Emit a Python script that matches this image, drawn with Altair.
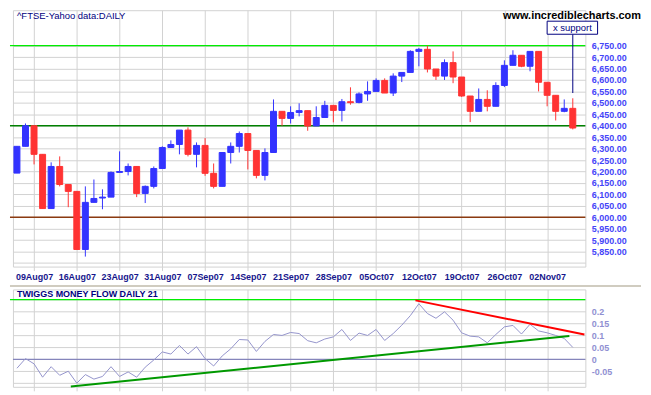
import json
import altair as alt
import pandas as pd

# ---------------- data ----------------
dates = [
    "07Aug07", "08Aug07", "09Aug07", "10Aug07", "13Aug07", "14Aug07", "15Aug07", "16Aug07",
    "17Aug07", "20Aug07", "21Aug07", "22Aug07", "23Aug07", "24Aug07", "28Aug07", "29Aug07",
    "30Aug07", "31Aug07", "03Sep07", "04Sep07", "05Sep07", "06Sep07", "07Sep07", "10Sep07",
    "11Sep07", "12Sep07", "13Sep07", "14Sep07", "17Sep07", "18Sep07", "19Sep07", "20Sep07",
    "21Sep07", "24Sep07", "25Sep07", "26Sep07", "27Sep07", "28Sep07", "01Oct07", "02Oct07",
    "03Oct07", "04Oct07", "05Oct07", "08Oct07", "09Oct07", "10Oct07", "11Oct07", "12Oct07",
    "15Oct07", "16Oct07", "17Oct07", "18Oct07", "19Oct07", "22Oct07", "23Oct07", "24Oct07",
    "25Oct07", "26Oct07", "29Oct07", "30Oct07", "31Oct07", "01Nov07", "02Nov07", "05Nov07",
    "06Nov07", "07Nov07",
]
opens = [6193, 6310, 6400, 6275, 6038, 6222, 6143, 6113, 5859, 6065, 6084, 6088, 6196, 6200,
         6222, 6104, 6135, 6213, 6305, 6318, 6381, 6275, 6314, 6192, 6135, 6283, 6310, 6366,
         6292, 6183, 6283, 6463, 6432, 6458, 6466, 6399, 6436, 6489, 6467, 6505, 6502, 6539,
         6550, 6598, 6543, 6617, 6633, 6725, 6734, 6648, 6617, 6676, 6613, 6530, 6463, 6515,
         6485, 6576, 6664, 6708, 6660, 6725, 6590, 6533, 6463, 6476]
highs = [6310, 6410, 6402, 6275, 6240, 6266, 6143, 6113, 6135, 6165, 6122, 6200, 6288, 6235,
         6222, 6139, 6222, 6310, 6336, 6381, 6393, 6327, 6346, 6235, 6283, 6327, 6375, 6366,
         6292, 6301, 6515, 6463, 6485, 6498, 6466, 6485, 6509, 6489, 6517, 6568, 6546, 6594,
         6607, 6607, 6629, 6633, 6730, 6740, 6750, 6648, 6690, 6725, 6613, 6530, 6563, 6555,
         6590, 6686, 6730, 6708, 6725, 6725, 6590, 6533, 6515, 6520]
lows = [6193, 6310, 6231, 6038, 6038, 6135, 6044, 5859, 5828, 6065, 6035, 6088, 6196, 6183,
        6088, 6062, 6126, 6213, 6305, 6275, 6266, 6218, 6181, 6126, 6135, 6235, 6283, 6209,
        6170, 6161, 6283, 6400, 6410, 6441, 6378, 6399, 6436, 6415, 6419, 6492, 6498, 6509,
        6550, 6543, 6530, 6591, 6633, 6660, 6633, 6600, 6600, 6586, 6526, 6416, 6463, 6463,
        6485, 6569, 6664, 6656, 6638, 6550, 6485, 6423, 6459, 6384]
closes = [6310, 6400, 6275, 6038, 6222, 6143, 6113, 5859, 6065, 6082, 6088, 6196, 6200, 6222,
          6104, 6135, 6213, 6305, 6318, 6381, 6275, 6314, 6192, 6135, 6283, 6310, 6366, 6292,
          6183, 6283, 6463, 6432, 6458, 6466, 6399, 6436, 6489, 6467, 6505, 6501, 6539, 6550,
          6598, 6543, 6617, 6633, 6725, 6734, 6648, 6617, 6676, 6613, 6530, 6463, 6515, 6485,
          6576, 6664, 6708, 6660, 6725, 6590, 6533, 6463, 6476, 6390]
money_flow = [-0.0375, 0.003, -0.019, -0.075, -0.031, -0.067, -0.05, -0.1, -0.064, -0.083,
              -0.072, -0.031, -0.072, -0.053, -0.075, -0.033, -0.003, 0.031, 0.022, 0.058,
              0.022, 0.053, 0.003, -0.028, 0.014, 0.044, 0.083, 0.081, 0.033, 0.075,
              0.104, 0.1, 0.1125, 0.108, 0.078, 0.069, 0.085, 0.094, 0.125, 0.079,
              0.11, 0.1, 0.125, 0.079, 0.108, 0.143, 0.183, 0.233, 0.192, 0.172,
              0.199, 0.164, 0.111, 0.097, 0.094, 0.069, 0.104, 0.136, 0.142, 0.106,
              0.147, 0.119, 0.111, 0.1, 0.0875, 0.05]

date_tick_idx = list(range(2, 63, 5))
price_grid = list(range(5800, 6751, 50))
mf_grid = [-0.1, -0.05, 0.0, 0.05, 0.1, 0.15, 0.2, 0.25]

price_levels = [6750, 6400, 6000]
price_level_colors = ["#00ee00", "#008000", "#8b3a10"]

trend_idx_red = [46.6, 66.36]
trend_val_red = [0.247, 0.104]
trend_idx_green = [6.3, 64.6]
trend_val_green = [-0.114, 0.098]

support_idx = 65
support_low, support_high = 6543, 6800
box_idx = [62.0, 67.9]
box_price = [6800, 6857]

# ---------------- layout / style ----------------
W = 576
H_TOP = 258
H_BOT = 98
FONT = "Liberation Sans"
GRID = "#d2d2d2"
BLUE = "#3333ff"
RED = "#ff3333"
NAVY = "#000080"

x_scale = alt.Scale(domain=[-0.465, 66.47], nice=False, zero=False, padding=0)
y_top = alt.Scale(domain=[5784.3, 6905.1], nice=False, zero=False)
y_bot = alt.Scale(domain=[-0.1154, 0.2929], nice=False, zero=False)

x_label_expr = json.dumps(dates) + "[datum.value]"

x_axis_top = alt.Axis(values=date_tick_idx, labelExpr=x_label_expr, grid=True, gridColor=GRID,
                      ticks=True, tickSize=4, tickColor=GRID, domain=False, title=None,
                      labelFont=FONT, labelFontSize=9, labelFontWeight="bold",
                      labelColor="#16168c", labelPadding=2, labelAngle=0)
y_axis_top = alt.Axis(orient="right", values=price_grid,
                      labelExpr="datum.value < 5820 ? '' : format(datum.value, ',.2f')",
                      grid=True, gridColor=GRID, ticks=False, domain=False, title=None,
                      labelFont=FONT, labelFontSize=9, labelFontWeight="bold",
                      labelColor="#4444f8", labelPadding=6)

x_axis_bot = alt.Axis(values=date_tick_idx, labels=False, grid=True, gridColor=GRID,
                      ticks=True, tickSize=4, tickColor=GRID, domain=False, title=None)
y_axis_bot = alt.Axis(orient="right", values=mf_grid,
                      labelExpr="datum.value < -0.07 || datum.value > 0.22 ? '' : "
                                "(datum.value < 0 ? '-' + format(-datum.value, '.2~f') : format(datum.value, '.2~f'))",
                      grid=True, gridColor=GRID, ticks=False, domain=False, title=None,
                      labelFont=FONT, labelFontSize=9, labelFontWeight="bold",
                      labelColor="#9090d2", labelPadding=6)


def xt(field):
    return alt.X(field, type="quantitative", scale=x_scale, axis=x_axis_top, title=None)


def yt(field):
    return alt.Y(field, type="quantitative", scale=y_top, axis=y_axis_top, title=None)


def xb(field):
    return alt.X(field, type="quantitative", scale=x_scale, axis=x_axis_bot, title=None)


def yb(field):
    return alt.Y(field, type="quantitative", scale=y_bot, axis=y_axis_bot, title=None)


# ---------------- top panel ----------------
candles = pd.DataFrame({
    "idx": list(range(len(dates))),
    "date": dates,
    "open": opens, "high": highs, "low": lows, "close": closes,
})
candles["color"] = [BLUE if c >= o else RED for o, c in zip(opens, closes)]

levels = pd.DataFrame({"price": price_levels, "color": price_level_colors})
level_rules = alt.Chart(levels).mark_rule(strokeWidth=1.4).encode(
    x=alt.value(-3), x2=alt.value(W),
    y=yt("price"),
    color=alt.Color("color:N", scale=None),
)

wicks = alt.Chart(candles).mark_rule(strokeWidth=1).encode(
    x=xt("idx"), y=yt("low"), y2="high:Q",
    color=alt.Color("color:N", scale=None),
)
bodies = alt.Chart(candles).mark_bar(size=6, strokeWidth=1).encode(
    x=xt("idx"), y=yt("open"), y2="close:Q",
    color=alt.Color("color:N", scale=None),
    stroke=alt.Stroke("color:N", scale=None),
)

support_df = pd.DataFrame({"idx": [support_idx], "lo": [support_low], "hi": [support_high]})
support_line = alt.Chart(support_df).mark_rule(color=NAVY, strokeWidth=1).encode(
    x=xt("idx"), y=yt("lo"), y2="hi:Q",
)
box_df = pd.DataFrame({"x0": [box_idx[0]], "x1": [box_idx[1]], "p0": [box_price[0]],
                       "p1": [box_price[1]], "label": ["x support"],
                       "xm": [(box_idx[0] + box_idx[1]) / 2], "pm": [(box_price[0] + box_price[1]) / 2]})
box = alt.Chart(box_df).mark_rect(fill="white", stroke=NAVY, strokeWidth=1).encode(
    x=xt("x0"), x2="x1:Q", y=yt("p0"), y2="p1:Q",
)
box_text = alt.Chart(box_df).mark_text(font=FONT, fontSize=9.5, color=NAVY, baseline="middle",
                                       align="center").encode(
    x=xt("xm"), y=yt("pm"), text="label:N",
)

title_top = alt.Chart(pd.DataFrame({"t": ["^FTSE-Yahoo data:DAILY"]})).mark_text(
    font=FONT, fontSize=9.5, color=NAVY, align="left", baseline="top").encode(
    x=alt.value(4), y=alt.value(1), text="t:N")
site = alt.Chart(pd.DataFrame({"t": ["www.incrediblecharts.com"]})).mark_text(
    font=FONT, fontSize=11, fontWeight="bold", color="black", align="right", baseline="top").encode(
    x=alt.value(632), y=alt.value(-0.5), text="t:N")

top = alt.layer(level_rules, wicks, bodies, support_line, box, box_text, title_top, site).properties(
    width=W, height=H_TOP)

# ---------------- bottom panel ----------------
mf = pd.DataFrame({"idx": list(range(len(dates))), "mf": money_flow})

separator = alt.Chart(pd.DataFrame({"a": [0]})).mark_rule(color="#d0ccc0", strokeWidth=2).encode(
    x=alt.value(-3), x2=alt.value(632), y=alt.value(-3.5))
green_top = alt.Chart(pd.DataFrame({"v": [0.25]})).mark_rule(color="#00ee00", strokeWidth=1.4).encode(
    x=alt.value(-3), x2=alt.value(W), y=yb("v"))
zero_line = alt.Chart(pd.DataFrame({"v": [0.0]})).mark_rule(color="#8585bb", strokeWidth=1.3).encode(
    x=alt.value(0), x2=alt.value(W), y=yb("v"))

mf_line = alt.Chart(mf).mark_line(color="#9494cc", strokeWidth=1).encode(
    x=xb("idx"), y=yb("mf"),
)
trend_red = alt.Chart(pd.DataFrame({"idx": trend_idx_red, "v": trend_val_red})).mark_line(
    color="#ff0000", strokeWidth=2).encode(x=xb("idx"), y=yb("v"))
trend_green = alt.Chart(pd.DataFrame({"idx": trend_idx_green, "v": trend_val_green})).mark_line(
    color="#009900", strokeWidth=2).encode(x=xb("idx"), y=yb("v"))

title_bot = alt.Chart(pd.DataFrame({"t": ["TWIGGS MONEY FLOW DAILY 21"]})).mark_text(
    font=FONT, fontSize=9, fontWeight="bold", color=NAVY, align="left", baseline="top").encode(
    x=alt.value(4), y=alt.value(1), text="t:N")

bottom = alt.layer(separator, green_top, zero_line, mf_line, trend_green, trend_red, title_bot).properties(
    width=W, height=H_BOT)

chart = alt.vconcat(top, bottom, spacing=23, bounds="flush").configure_view(
    stroke="#d2d2d2", strokeWidth=1
).properties(padding={"left": 0, "top": 0, "right": 0, "bottom": 0}, background="white")

chart.save("out.html", embed_options={"renderer": "svg", "actions": False})
